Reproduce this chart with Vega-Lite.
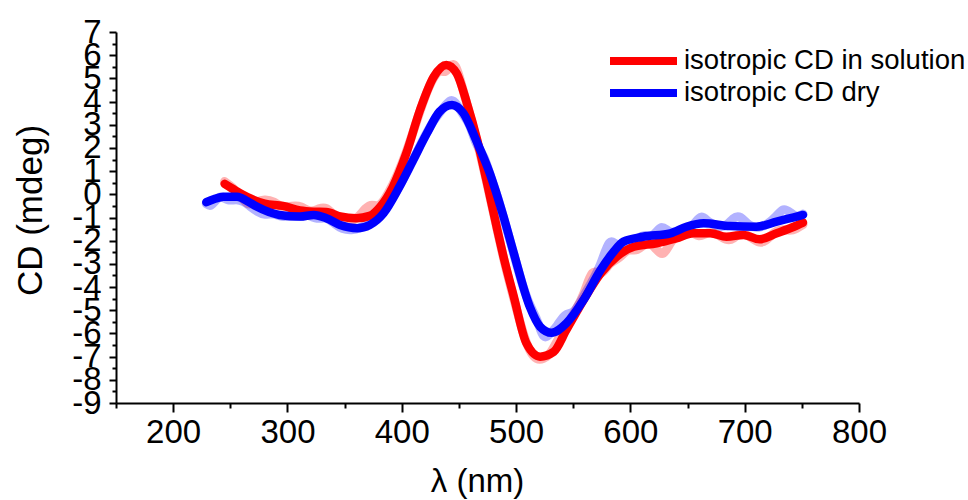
{
  "$schema": "https://vega.github.io/schema/vega-lite/v6.json",
  "width": 743,
  "height": 371,
  "autosize": {"type": "none"},
  "padding": {"left": 116, "top": 32, "right": 109, "bottom": 97},
  "background": "white",
  "config": {
    "view": {"stroke": null},
    "font": "Liberation Sans",
    "axis": {
      "grid": false,
      "domainColor": "black",
      "domainWidth": 2,
      "tickColor": "black",
      "tickWidth": 2,
      "labelColor": "black",
      "titleColor": "black",
      "labelFont": "Liberation Sans",
      "titleFont": "Liberation Sans",
      "titleFontWeight": "normal",
      "labelOverlap": false
    }
  },
  "datasets": {
    "smooth": [
      {"series": "isotropic CD in solution", "x": 245, "y": 0.45},
      {"series": "isotropic CD in solution", "x": 255, "y": 0.15},
      {"series": "isotropic CD in solution", "x": 265, "y": -0.12},
      {"series": "isotropic CD in solution", "x": 280, "y": -0.4},
      {"series": "isotropic CD in solution", "x": 296, "y": -0.5},
      {"series": "isotropic CD in solution", "x": 311, "y": -0.7},
      {"series": "isotropic CD in solution", "x": 323, "y": -0.75},
      {"series": "isotropic CD in solution", "x": 334, "y": -0.76},
      {"series": "isotropic CD in solution", "x": 346, "y": -0.95},
      {"series": "isotropic CD in solution", "x": 360, "y": -1.03},
      {"series": "isotropic CD in solution", "x": 372, "y": -0.93},
      {"series": "isotropic CD in solution", "x": 381, "y": -0.55},
      {"series": "isotropic CD in solution", "x": 392, "y": 0.3},
      {"series": "isotropic CD in solution", "x": 404, "y": 1.77},
      {"series": "isotropic CD in solution", "x": 416, "y": 3.64},
      {"series": "isotropic CD in solution", "x": 428, "y": 5.07},
      {"series": "isotropic CD in solution", "x": 439, "y": 5.58},
      {"series": "isotropic CD in solution", "x": 448, "y": 5.22},
      {"series": "isotropic CD in solution", "x": 457, "y": 3.93},
      {"series": "isotropic CD in solution", "x": 466, "y": 2.34},
      {"series": "isotropic CD in solution", "x": 474, "y": 0.62},
      {"series": "isotropic CD in solution", "x": 483, "y": -1.4},
      {"series": "isotropic CD in solution", "x": 489, "y": -2.69},
      {"series": "isotropic CD in solution", "x": 498, "y": -4.41},
      {"series": "isotropic CD in solution", "x": 509, "y": -6.42},
      {"series": "isotropic CD in solution", "x": 521, "y": -7.0},
      {"series": "isotropic CD in solution", "x": 533, "y": -6.79},
      {"series": "isotropic CD in solution", "x": 544, "y": -5.85},
      {"series": "isotropic CD in solution", "x": 559, "y": -4.56},
      {"series": "isotropic CD in solution", "x": 574, "y": -3.41},
      {"series": "isotropic CD in solution", "x": 588, "y": -2.69},
      {"series": "isotropic CD in solution", "x": 603, "y": -2.26},
      {"series": "isotropic CD in solution", "x": 623, "y": -2.11},
      {"series": "isotropic CD in solution", "x": 640, "y": -1.9},
      {"series": "isotropic CD in solution", "x": 655, "y": -1.68},
      {"series": "isotropic CD in solution", "x": 670, "y": -1.68},
      {"series": "isotropic CD in solution", "x": 684, "y": -1.83},
      {"series": "isotropic CD in solution", "x": 699, "y": -1.75},
      {"series": "isotropic CD in solution", "x": 713, "y": -1.94},
      {"series": "isotropic CD in solution", "x": 728, "y": -1.68},
      {"series": "isotropic CD in solution", "x": 743, "y": -1.4},
      {"series": "isotropic CD in solution", "x": 751, "y": -1.22},
      {"series": "isotropic CD dry", "x": 229, "y": -0.34},
      {"series": "isotropic CD dry", "x": 236, "y": -0.2},
      {"series": "isotropic CD dry", "x": 244, "y": -0.1},
      {"series": "isotropic CD dry", "x": 256, "y": -0.1},
      {"series": "isotropic CD dry", "x": 265, "y": -0.3},
      {"series": "isotropic CD dry", "x": 273, "y": -0.53},
      {"series": "isotropic CD dry", "x": 293, "y": -0.89},
      {"series": "isotropic CD dry", "x": 311, "y": -0.96},
      {"series": "isotropic CD dry", "x": 323, "y": -0.89},
      {"series": "isotropic CD dry", "x": 334, "y": -1.03},
      {"series": "isotropic CD dry", "x": 346, "y": -1.32},
      {"series": "isotropic CD dry", "x": 361, "y": -1.46},
      {"series": "isotropic CD dry", "x": 372, "y": -1.32},
      {"series": "isotropic CD dry", "x": 384, "y": -0.82},
      {"series": "isotropic CD dry", "x": 398, "y": 0.33},
      {"series": "isotropic CD dry", "x": 410, "y": 1.48},
      {"series": "isotropic CD dry", "x": 422, "y": 2.63},
      {"series": "isotropic CD dry", "x": 433, "y": 3.56},
      {"series": "isotropic CD dry", "x": 444, "y": 3.85},
      {"series": "isotropic CD dry", "x": 454, "y": 3.49},
      {"series": "isotropic CD dry", "x": 465, "y": 2.34},
      {"series": "isotropic CD dry", "x": 477, "y": 0.91},
      {"series": "isotropic CD dry", "x": 489, "y": -0.96},
      {"series": "isotropic CD dry", "x": 498, "y": -2.54},
      {"series": "isotropic CD dry", "x": 512, "y": -4.85},
      {"series": "isotropic CD dry", "x": 521, "y": -5.71},
      {"series": "isotropic CD dry", "x": 531, "y": -5.97},
      {"series": "isotropic CD dry", "x": 544, "y": -5.56},
      {"series": "isotropic CD dry", "x": 559, "y": -4.56},
      {"series": "isotropic CD dry", "x": 574, "y": -3.26},
      {"series": "isotropic CD dry", "x": 585, "y": -2.5},
      {"series": "isotropic CD dry", "x": 594, "y": -2.04},
      {"series": "isotropic CD dry", "x": 611, "y": -1.83},
      {"series": "isotropic CD dry", "x": 635, "y": -1.68},
      {"series": "isotropic CD dry", "x": 649, "y": -1.4},
      {"series": "isotropic CD dry", "x": 664, "y": -1.25},
      {"series": "isotropic CD dry", "x": 687, "y": -1.37},
      {"series": "isotropic CD dry", "x": 710, "y": -1.4},
      {"series": "isotropic CD dry", "x": 728, "y": -1.18},
      {"series": "isotropic CD dry", "x": 743, "y": -0.99},
      {"series": "isotropic CD dry", "x": 751, "y": -0.89}
    ],
    "raw": [
      {"series": "isotropic CD in solution", "x": 245, "y": 0.55},
      {"series": "isotropic CD in solution", "x": 252, "y": 0.3},
      {"series": "isotropic CD in solution", "x": 258, "y": 0.0},
      {"series": "isotropic CD in solution", "x": 265, "y": -0.5},
      {"series": "isotropic CD in solution", "x": 272, "y": -0.35},
      {"series": "isotropic CD in solution", "x": 280, "y": -0.2},
      {"series": "isotropic CD in solution", "x": 288, "y": -0.3},
      {"series": "isotropic CD in solution", "x": 296, "y": -0.6},
      {"series": "isotropic CD in solution", "x": 304, "y": -0.5},
      {"series": "isotropic CD in solution", "x": 312, "y": -0.5},
      {"series": "isotropic CD in solution", "x": 320, "y": -0.8},
      {"series": "isotropic CD in solution", "x": 328, "y": -0.6},
      {"series": "isotropic CD in solution", "x": 334, "y": -0.55},
      {"series": "isotropic CD in solution", "x": 340, "y": -0.9},
      {"series": "isotropic CD in solution", "x": 348, "y": -1.0},
      {"series": "isotropic CD in solution", "x": 355, "y": -1.2},
      {"series": "isotropic CD in solution", "x": 362, "y": -1.0},
      {"series": "isotropic CD in solution", "x": 368, "y": -0.6},
      {"series": "isotropic CD in solution", "x": 374, "y": -0.4},
      {"series": "isotropic CD in solution", "x": 380, "y": -0.6},
      {"series": "isotropic CD in solution", "x": 388, "y": 0.0},
      {"series": "isotropic CD in solution", "x": 396, "y": 0.8},
      {"series": "isotropic CD in solution", "x": 404, "y": 1.8},
      {"series": "isotropic CD in solution", "x": 412, "y": 3.0},
      {"series": "isotropic CD in solution", "x": 420, "y": 4.2},
      {"series": "isotropic CD in solution", "x": 428, "y": 5.1},
      {"series": "isotropic CD in solution", "x": 434, "y": 5.4},
      {"series": "isotropic CD in solution", "x": 438, "y": 5.2},
      {"series": "isotropic CD in solution", "x": 443, "y": 5.6},
      {"series": "isotropic CD in solution", "x": 447, "y": 5.65},
      {"series": "isotropic CD in solution", "x": 452, "y": 4.8},
      {"series": "isotropic CD in solution", "x": 458, "y": 3.7},
      {"series": "isotropic CD in solution", "x": 466, "y": 2.3},
      {"series": "isotropic CD in solution", "x": 474, "y": 0.6},
      {"series": "isotropic CD in solution", "x": 482, "y": -1.2},
      {"series": "isotropic CD in solution", "x": 490, "y": -3.0},
      {"series": "isotropic CD in solution", "x": 498, "y": -4.5},
      {"series": "isotropic CD in solution", "x": 506, "y": -6.0},
      {"series": "isotropic CD in solution", "x": 512, "y": -6.8},
      {"series": "isotropic CD in solution", "x": 518, "y": -7.15},
      {"series": "isotropic CD in solution", "x": 524, "y": -7.1},
      {"series": "isotropic CD in solution", "x": 530, "y": -6.9},
      {"series": "isotropic CD in solution", "x": 536, "y": -6.3},
      {"series": "isotropic CD in solution", "x": 544, "y": -5.7},
      {"series": "isotropic CD in solution", "x": 552, "y": -5.0},
      {"series": "isotropic CD in solution", "x": 559, "y": -4.4},
      {"series": "isotropic CD in solution", "x": 567, "y": -3.1},
      {"series": "isotropic CD in solution", "x": 574, "y": -3.6},
      {"series": "isotropic CD in solution", "x": 582, "y": -2.9},
      {"series": "isotropic CD in solution", "x": 590, "y": -2.8},
      {"series": "isotropic CD in solution", "x": 598, "y": -2.3},
      {"series": "isotropic CD in solution", "x": 606, "y": -2.5},
      {"series": "isotropic CD in solution", "x": 614, "y": -2.0},
      {"series": "isotropic CD in solution", "x": 622, "y": -2.3},
      {"series": "isotropic CD in solution", "x": 629, "y": -2.75},
      {"series": "isotropic CD in solution", "x": 636, "y": -1.9},
      {"series": "isotropic CD in solution", "x": 644, "y": -1.8},
      {"series": "isotropic CD in solution", "x": 652, "y": -1.5},
      {"series": "isotropic CD in solution", "x": 660, "y": -1.9},
      {"series": "isotropic CD in solution", "x": 668, "y": -1.6},
      {"series": "isotropic CD in solution", "x": 676, "y": -1.7},
      {"series": "isotropic CD in solution", "x": 684, "y": -2.0},
      {"series": "isotropic CD in solution", "x": 690, "y": -1.95},
      {"series": "isotropic CD in solution", "x": 696, "y": -1.6},
      {"series": "isotropic CD in solution", "x": 704, "y": -1.8},
      {"series": "isotropic CD in solution", "x": 712, "y": -2.1},
      {"series": "isotropic CD in solution", "x": 718, "y": -2.05},
      {"series": "isotropic CD in solution", "x": 726, "y": -1.6},
      {"series": "isotropic CD in solution", "x": 734, "y": -1.5},
      {"series": "isotropic CD in solution", "x": 742, "y": -1.6},
      {"series": "isotropic CD in solution", "x": 751, "y": -1.3},
      {"series": "isotropic CD dry", "x": 229, "y": -0.4},
      {"series": "isotropic CD dry", "x": 233, "y": -0.55},
      {"series": "isotropic CD dry", "x": 238, "y": -0.2},
      {"series": "isotropic CD dry", "x": 242, "y": -0.05},
      {"series": "isotropic CD dry", "x": 248, "y": -0.3},
      {"series": "isotropic CD dry", "x": 255, "y": -0.2},
      {"series": "isotropic CD dry", "x": 262, "y": -0.3},
      {"series": "isotropic CD dry", "x": 268, "y": -0.55},
      {"series": "isotropic CD dry", "x": 274, "y": -0.75},
      {"series": "isotropic CD dry", "x": 280, "y": -0.9},
      {"series": "isotropic CD dry", "x": 288, "y": -0.8},
      {"series": "isotropic CD dry", "x": 295, "y": -1.0},
      {"series": "isotropic CD dry", "x": 302, "y": -0.9},
      {"series": "isotropic CD dry", "x": 310, "y": -1.0},
      {"series": "isotropic CD dry", "x": 318, "y": -0.85},
      {"series": "isotropic CD dry", "x": 326, "y": -1.1},
      {"series": "isotropic CD dry", "x": 334, "y": -0.95},
      {"series": "isotropic CD dry", "x": 342, "y": -1.3},
      {"series": "isotropic CD dry", "x": 348, "y": -1.5},
      {"series": "isotropic CD dry", "x": 356, "y": -1.55},
      {"series": "isotropic CD dry", "x": 364, "y": -1.45},
      {"series": "isotropic CD dry", "x": 372, "y": -1.25},
      {"series": "isotropic CD dry", "x": 380, "y": -0.9},
      {"series": "isotropic CD dry", "x": 388, "y": -0.5},
      {"series": "isotropic CD dry", "x": 396, "y": 0.2},
      {"series": "isotropic CD dry", "x": 404, "y": 0.9},
      {"series": "isotropic CD dry", "x": 412, "y": 1.7},
      {"series": "isotropic CD dry", "x": 420, "y": 2.5},
      {"series": "isotropic CD dry", "x": 428, "y": 3.2},
      {"series": "isotropic CD dry", "x": 436, "y": 3.7},
      {"series": "isotropic CD dry", "x": 443, "y": 4.15},
      {"series": "isotropic CD dry", "x": 448, "y": 3.9},
      {"series": "isotropic CD dry", "x": 454, "y": 3.4},
      {"series": "isotropic CD dry", "x": 460, "y": 3.0},
      {"series": "isotropic CD dry", "x": 465, "y": 2.1},
      {"series": "isotropic CD dry", "x": 472, "y": 1.7},
      {"series": "isotropic CD dry", "x": 478, "y": 0.7},
      {"series": "isotropic CD dry", "x": 484, "y": -0.1},
      {"series": "isotropic CD dry", "x": 490, "y": -1.2},
      {"series": "isotropic CD dry", "x": 496, "y": -2.2},
      {"series": "isotropic CD dry", "x": 502, "y": -3.3},
      {"series": "isotropic CD dry", "x": 508, "y": -4.3},
      {"series": "isotropic CD dry", "x": 514, "y": -5.0},
      {"series": "isotropic CD dry", "x": 519, "y": -5.45},
      {"series": "isotropic CD dry", "x": 524, "y": -6.3},
      {"series": "isotropic CD dry", "x": 530, "y": -6.0},
      {"series": "isotropic CD dry", "x": 536, "y": -5.7},
      {"series": "isotropic CD dry", "x": 543, "y": -5.1},
      {"series": "isotropic CD dry", "x": 550, "y": -5.2},
      {"series": "isotropic CD dry", "x": 558, "y": -4.5},
      {"series": "isotropic CD dry", "x": 566, "y": -3.8},
      {"series": "isotropic CD dry", "x": 574, "y": -3.1},
      {"series": "isotropic CD dry", "x": 582, "y": -1.8},
      {"series": "isotropic CD dry", "x": 588, "y": -2.3},
      {"series": "isotropic CD dry", "x": 596, "y": -2.0},
      {"series": "isotropic CD dry", "x": 604, "y": -2.0},
      {"series": "isotropic CD dry", "x": 612, "y": -1.7},
      {"series": "isotropic CD dry", "x": 620, "y": -1.9},
      {"series": "isotropic CD dry", "x": 627, "y": -1.25},
      {"series": "isotropic CD dry", "x": 634, "y": -1.7},
      {"series": "isotropic CD dry", "x": 642, "y": -1.6},
      {"series": "isotropic CD dry", "x": 650, "y": -1.5},
      {"series": "isotropic CD dry", "x": 656, "y": -1.3},
      {"series": "isotropic CD dry", "x": 662, "y": -0.85},
      {"series": "isotropic CD dry", "x": 668, "y": -1.2},
      {"series": "isotropic CD dry", "x": 676, "y": -1.4},
      {"series": "isotropic CD dry", "x": 684, "y": -1.4},
      {"series": "isotropic CD dry", "x": 690, "y": -1.0},
      {"series": "isotropic CD dry", "x": 696, "y": -0.9},
      {"series": "isotropic CD dry", "x": 704, "y": -1.4},
      {"series": "isotropic CD dry", "x": 712, "y": -1.45},
      {"series": "isotropic CD dry", "x": 720, "y": -1.3},
      {"series": "isotropic CD dry", "x": 727, "y": -1.0},
      {"series": "isotropic CD dry", "x": 734, "y": -0.55},
      {"series": "isotropic CD dry", "x": 740, "y": -0.8},
      {"series": "isotropic CD dry", "x": 746, "y": -1.0},
      {"series": "isotropic CD dry", "x": 751, "y": -0.85}
    ]
  },
  "encoding": {
    "x": {
      "field": "x",
      "type": "quantitative",
      "scale": {"domain": [150, 800], "nice": false, "zero": false},
      "axis": {
        "title": "λ (nm)",
        "values": [150, 200, 250, 300, 350, 400, 450, 500, 550, 600, 650, 700, 750, 800],
        "labelExpr": "datum.value % 100 === 0 ? datum.label : ''",
        "tickSize": {"condition": {"test": "datum.value % 100 === 0", "value": 9}, "value": 5},
        "labelFontSize": 33,
        "labelPadding": 4,
        "labelOverlap": false,
        "labelFlush": false,
        "titleFontSize": 33,
        "titleX": 361,
        "titleY": 62,
        "titleBaseline": "top"
      }
    },
    "y": {
      "field": "y",
      "type": "quantitative",
      "scale": {"domain": [-9, 7], "nice": false, "zero": false},
      "axis": {
        "title": "CD (mdeg)",
        "values": [-9, -8.5, -8, -7.5, -7, -6.5, -6, -5.5, -5, -4.5, -4, -3.5, -3, -2.5, -2, -1.5, -1, -0.5, 0, 0.5, 1, 1.5, 2, 2.5, 3, 3.5, 4, 4.5, 5, 5.5, 6, 6.5, 7],
        "labelExpr": "datum.value % 1 === 0 ? '' + datum.value : ''",
        "tickSize": {"condition": {"test": "datum.value % 1 === 0", "value": 7}, "value": 4},
        "labelFontSize": 33,
        "labelPadding": 8,
        "labelOverlap": false,
        "labelFlush": false,
        "labelBound": false,
        "titleFontSize": 35,
        "titleX": -68,
        "titleY": 178,
        "titleAngle": -90,
        "titleBaseline": "bottom",
        "titleAlign": "center"
      }
    },
    "color": {
      "field": "series",
      "type": "nominal",
      "scale": {"domain": ["isotropic CD in solution", "isotropic CD dry"], "range": ["#ff0000", "#0000ff"]},
      "legend": {
        "title": null,
        "orient": "none",
        "legendX": 490,
        "legendY": 15,
        "padding": 0,
        "symbolType": "stroke",
        "symbolSize": 4489,
        "symbolStrokeWidth": 8,
        "symbolOpacity": 1,
        "clipHeight": 28,
        "rowPadding": 4,
        "labelOffset": 3,
        "labelFontSize": 27.5,
        "labelColor": "black",
        "labelFont": "Liberation Sans",
        "labelLimit": 500
      }
    }
  },
  "layer": [
    {
      "data": {"name": "raw"},
      "mark": {"type": "line", "strokeWidth": 9, "opacity": 0.3, "interpolate": "basis", "strokeCap": "round", "strokeJoin": "round"}
    },
    {
      "data": {"name": "smooth"},
      "mark": {"type": "line", "strokeWidth": 8.5, "interpolate": "monotone", "strokeCap": "round", "strokeJoin": "round"}
    }
  ]
}
